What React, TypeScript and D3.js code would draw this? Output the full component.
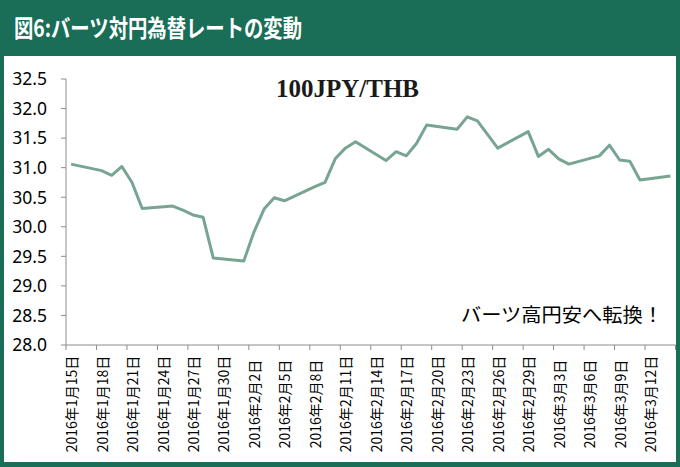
import React from "react";
import * as d3 from "d3";

const dates: string[] = [
  "2016-01-15", "2016-01-18", "2016-01-19", "2016-01-20", "2016-01-21", "2016-01-22",
  "2016-01-25", "2016-01-26", "2016-01-27", "2016-01-28", "2016-01-29",
  "2016-02-01", "2016-02-02", "2016-02-03", "2016-02-04", "2016-02-05",
  "2016-02-08", "2016-02-09", "2016-02-10", "2016-02-11", "2016-02-12",
  "2016-02-15", "2016-02-16", "2016-02-17", "2016-02-18", "2016-02-19",
  "2016-02-22", "2016-02-23", "2016-02-24", "2016-02-26", "2016-02-29",
  "2016-03-01", "2016-03-02", "2016-03-03", "2016-03-04",
  "2016-03-07", "2016-03-08", "2016-03-09", "2016-03-10", "2016-03-11", "2016-03-14",
];
const rates: number[] = [
  31.06, 30.95, 30.87, 31.02, 30.75, 30.31,
  30.35, 30.28, 30.20, 30.16, 29.47,
  29.42, 29.91, 30.30, 30.49, 30.44,
  30.68, 30.75, 31.15, 31.33, 31.44,
  31.12, 31.27, 31.20, 31.41, 31.72,
  31.65, 31.86, 31.79, 31.33, 31.61,
  31.19, 31.31, 31.15, 31.06,
  31.20, 31.38, 31.13, 31.11, 30.79, 30.86,
];
const yTicks: number[] = [28.0, 28.5, 29.0, 29.5, 30.0, 30.5, 31.0, 31.5, 32.0, 32.5];
const tickDates: string[] = [
  "2016-01-15", "2016-01-18", "2016-01-21", "2016-01-24", "2016-01-27", "2016-01-30",
  "2016-02-02", "2016-02-05", "2016-02-08", "2016-02-11", "2016-02-14", "2016-02-17",
  "2016-02-20", "2016-02-23", "2016-02-26", "2016-02-29", "2016-03-03", "2016-03-06",
  "2016-03-09", "2016-03-12",
];
const domainStart = "2016-01-15";
const domainEnd = "2016-03-15";
const titleText = "図6:バーツ対円為替レートの変動";
const seriesLabel = "100JPY/THB";
const noteText = "バーツ高円安へ転換！";

const W = 680;
const H = 467;
const GREEN = "#1a6d57";
const LINE = "#78a592";
const AXIS = "#8c8c8c";

const parse = (s: string) => {
  const [y, m, d] = s.split("-").map(Number);
  return new Date(Date.UTC(y, m - 1, d));
};
const noon = (s: string) => new Date(parse(s).getTime() + 12 * 3600 * 1000);
const fmt = (s: string) => {
  const d = parse(s);
  return `${d.getUTCFullYear()}年${d.getUTCMonth() + 1}月${d.getUTCDate()}日`;
};

export default function App() {
  const left = 66, right = 675.5, top = 79, bottom = 345;
  const x = d3.scaleUtc().domain([parse(domainStart), parse(domainEnd)]).range([left, right]);
  const y = d3.scaleLinear().domain([28, 32.5]).range([bottom, top]);
  const data = dates.map((d, i) => ({ t: noon(d), v: rates[i] }));
  const line = d3.line<{ t: Date; v: number }>().x((d) => x(d.t)).y((d) => y(d.v));
  const tickMarks = [...tickDates.map(parse), parse(domainEnd)];

  return (
    <svg width={W} height={H} style={{ position: "absolute", left: 0, top: 0 }}>
      <rect x={0} y={0} width={W} height={H} fill={GREEN} />
      <rect x={4} y={56} width={672} height={406} fill="#ffffff" />
      <text x={14} y={37} fill="#ffffff" fontFamily="'Noto Sans CJK JP'" fontWeight={700} fontSize={24} textLength={288} lengthAdjust="spacingAndGlyphs">
        {titleText}
      </text>

      {/* y axis */}
      <line x1={left} x2={left} y1={top} y2={bottom} stroke={AXIS} strokeWidth={1} />
      {yTicks.map((t) => (
        <g key={t}>
          <line x1={left - 5} x2={left} y1={y(t)} y2={y(t)} stroke={AXIS} strokeWidth={1} />
          <text x={47} y={y(t)} dy="0.36em" textAnchor="end" fontFamily="'Noto Sans'" fontSize={17.5} fill="#000">
            {t.toFixed(1)}
          </text>
        </g>
      ))}

      {/* x axis */}
      <line x1={left} x2={right} y1={bottom} y2={bottom} stroke={AXIS} strokeWidth={1} />
      {tickMarks.map((d, i) => (
        <line key={i} x1={x(d)} x2={x(d)} y1={bottom} y2={bottom + 5} stroke={AXIS} strokeWidth={1} />
      ))}
      {tickDates.map((s) => {
        const cx = x(noon(s));
        return (
          <text
            key={s}
            transform={`translate(${cx},404) rotate(-90)`}
            textAnchor="middle"
            dominantBaseline="central"
            fontFamily="'Noto Sans CJK JP'"
            fontSize={14}
            fill="#000"
          >
            {fmt(s)}
          </text>
        );
      })}

      <path d={line(data) ?? ""} fill="none" stroke={LINE} strokeWidth={3} strokeLinejoin="round" />

      <text x={347.5} y={97} textAnchor="middle" fontFamily="'Liberation Serif'" fontWeight={700} fontSize={25} fill="#1a1a1a">
        {seriesLabel}
      </text>
      <text x={461} y={322} fontFamily="'Noto Sans CJK JP'" fontSize={19} fill="#000" textLength={202} lengthAdjust="spacingAndGlyphs">
        {noteText}
      </text>
    </svg>
  );
}
